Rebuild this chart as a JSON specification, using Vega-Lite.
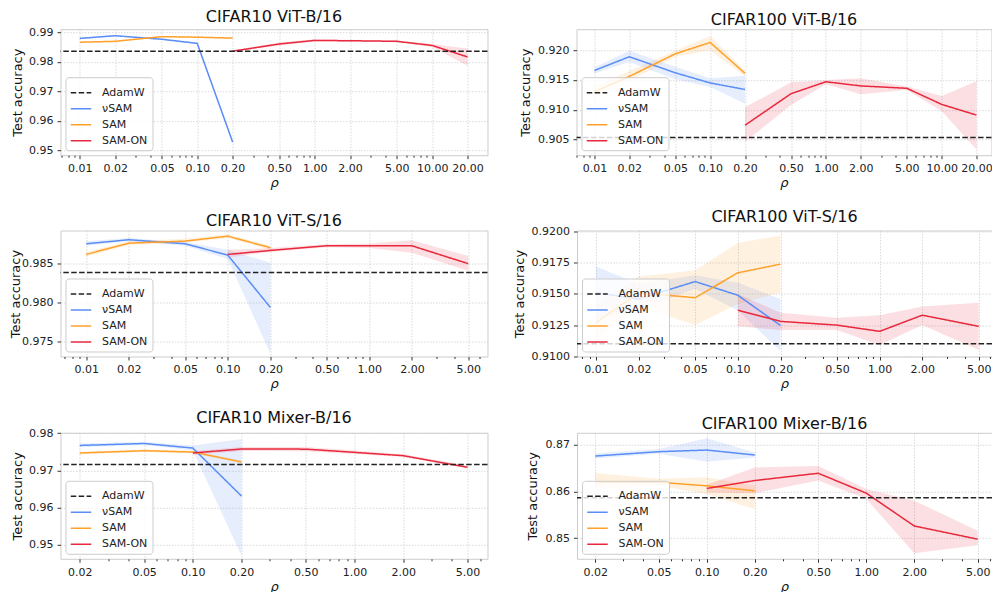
{
  "$schema": "https://vega.github.io/schema/vega-lite/v6.json",
  "padding": {"left": 8.5, "top": 8.2, "right": 0, "bottom": 0},
  "config": {
    "font": "DejaVu Sans",
    "view": {"stroke": "#cccccc", "strokeWidth": 1},
    "axis": {"domain": false, "gridColor": "#cfcfcf", "gridDash": [1.5, 1.5], "gridWidth": 0.8, "tickColor": "#333333", "tickSize": 3.5, "labelFontSize": 11, "labelColor": "#222222", "titleFontSize": 13, "titleFontWeight": "normal", "titleColor": "#111111", "labelPadding": 4, "titlePadding": 4, "labelOverlap": false, "labelFlush": false},
    "axisX": {"titleFontStyle": "italic", "titlePadding": 3},
    "title": {"fontSize": 16, "fontWeight": "normal", "color": "#111111", "offset": 1},
    "legend": {"orient": "bottom-left", "offset": 5, "symbolType": "stroke", "symbolSize": 420, "symbolStrokeWidth": 1.5, "labelFontSize": 11, "labelColor": "#222222", "fillColor": "rgba(255,255,255,0.8)", "strokeColor": "#cccccc", "cornerRadius": 3, "padding": 4.5, "rowPadding": -1.5, "labelOffset": 10}
  },
  "datasets": {
    "d": [
      {"panel": "p1", "method": "νSAM", "rho": 0.01, "acc": 0.9880, "lo": 0.9877, "hi": 0.9883},
      {"panel": "p1", "method": "νSAM", "rho": 0.02, "acc": 0.9889, "lo": 0.9887, "hi": 0.9891},
      {"panel": "p1", "method": "νSAM", "rho": 0.05, "acc": 0.9877, "lo": 0.9875, "hi": 0.9879},
      {"panel": "p1", "method": "νSAM", "rho": 0.1, "acc": 0.9863, "lo": 0.9860, "hi": 0.9866},
      {"panel": "p1", "method": "νSAM", "rho": 0.2, "acc": 0.9528, "lo": 0.9522, "hi": 0.9534},
      {"panel": "p1", "method": "SAM", "rho": 0.01, "acc": 0.9867, "lo": 0.9865, "hi": 0.9869},
      {"panel": "p1", "method": "SAM", "rho": 0.02, "acc": 0.9870, "lo": 0.9868, "hi": 0.9872},
      {"panel": "p1", "method": "SAM", "rho": 0.05, "acc": 0.9886, "lo": 0.9884, "hi": 0.9888},
      {"panel": "p1", "method": "SAM", "rho": 0.1, "acc": 0.9884, "lo": 0.9882, "hi": 0.9886},
      {"panel": "p1", "method": "SAM", "rho": 0.2, "acc": 0.9881, "lo": 0.9879, "hi": 0.9883},
      {"panel": "p1", "method": "SAM-ON", "rho": 0.2, "acc": 0.98365, "lo": 0.9834, "hi": 0.9839},
      {"panel": "p1", "method": "SAM-ON", "rho": 0.5, "acc": 0.9861, "lo": 0.9856, "hi": 0.9866},
      {"panel": "p1", "method": "SAM-ON", "rho": 1, "acc": 0.9873, "lo": 0.9869, "hi": 0.9877},
      {"panel": "p1", "method": "SAM-ON", "rho": 2, "acc": 0.9872, "lo": 0.9869, "hi": 0.9875},
      {"panel": "p1", "method": "SAM-ON", "rho": 5, "acc": 0.9870, "lo": 0.9867, "hi": 0.9873},
      {"panel": "p1", "method": "SAM-ON", "rho": 10, "acc": 0.9856, "lo": 0.9851, "hi": 0.9861},
      {"panel": "p1", "method": "SAM-ON", "rho": 20, "acc": 0.9817, "lo": 0.9787, "hi": 0.9846},

      {"panel": "p2", "method": "νSAM", "rho": 0.01, "acc": 0.9166, "lo": 0.9161, "hi": 0.9171},
      {"panel": "p2", "method": "νSAM", "rho": 0.02, "acc": 0.9189, "lo": 0.9180, "hi": 0.9199},
      {"panel": "p2", "method": "νSAM", "rho": 0.05, "acc": 0.9162, "lo": 0.9151, "hi": 0.9172},
      {"panel": "p2", "method": "νSAM", "rho": 0.1, "acc": 0.9145, "lo": 0.9138, "hi": 0.9153},
      {"panel": "p2", "method": "νSAM", "rho": 0.2, "acc": 0.9134, "lo": 0.9110, "hi": 0.9157},
      {"panel": "p2", "method": "SAM", "rho": 0.01, "acc": 0.9130, "lo": 0.9120, "hi": 0.9139},
      {"panel": "p2", "method": "SAM", "rho": 0.02, "acc": 0.9156, "lo": 0.9148, "hi": 0.9165},
      {"panel": "p2", "method": "SAM", "rho": 0.05, "acc": 0.9194, "lo": 0.9189, "hi": 0.9199},
      {"panel": "p2", "method": "SAM", "rho": 0.1, "acc": 0.9213, "lo": 0.9200, "hi": 0.9224},
      {"panel": "p2", "method": "SAM", "rho": 0.2, "acc": 0.9161, "lo": 0.9156, "hi": 0.9166},
      {"panel": "p2", "method": "SAM-ON", "rho": 0.2, "acc": 0.9074, "lo": 0.9046, "hi": 0.9104},
      {"panel": "p2", "method": "SAM-ON", "rho": 0.5, "acc": 0.9127, "lo": 0.9108, "hi": 0.9146},
      {"panel": "p2", "method": "SAM-ON", "rho": 1, "acc": 0.9147, "lo": 0.9143, "hi": 0.9150},
      {"panel": "p2", "method": "SAM-ON", "rho": 2, "acc": 0.9140, "lo": 0.9126, "hi": 0.9153},
      {"panel": "p2", "method": "SAM-ON", "rho": 5, "acc": 0.9136, "lo": 0.9133, "hi": 0.9139},
      {"panel": "p2", "method": "SAM-ON", "rho": 10, "acc": 0.9109, "lo": 0.9098, "hi": 0.9123},
      {"panel": "p2", "method": "SAM-ON", "rho": 20, "acc": 0.9091, "lo": 0.9033, "hi": 0.9148},

      {"panel": "p3", "method": "νSAM", "rho": 0.01, "acc": 0.98756, "lo": 0.9873, "hi": 0.9879},
      {"panel": "p3", "method": "νSAM", "rho": 0.02, "acc": 0.98808, "lo": 0.9879, "hi": 0.9883},
      {"panel": "p3", "method": "νSAM", "rho": 0.05, "acc": 0.98756, "lo": 0.9873, "hi": 0.9878},
      {"panel": "p3", "method": "νSAM", "rho": 0.1, "acc": 0.9861, "lo": 0.9856, "hi": 0.9868},
      {"panel": "p3", "method": "νSAM", "rho": 0.2, "acc": 0.97936, "lo": 0.9734, "hi": 0.9851},
      {"panel": "p3", "method": "SAM", "rho": 0.01, "acc": 0.98619, "lo": 0.9859, "hi": 0.9865},
      {"panel": "p3", "method": "SAM", "rho": 0.02, "acc": 0.98764, "lo": 0.9874, "hi": 0.9879},
      {"panel": "p3", "method": "SAM", "rho": 0.05, "acc": 0.9879, "lo": 0.9877, "hi": 0.9882},
      {"panel": "p3", "method": "SAM", "rho": 0.1, "acc": 0.98854, "lo": 0.9883, "hi": 0.9888},
      {"panel": "p3", "method": "SAM", "rho": 0.2, "acc": 0.98705, "lo": 0.9868, "hi": 0.9873},
      {"panel": "p3", "method": "SAM-ON", "rho": 0.1, "acc": 0.98619, "lo": 0.9858, "hi": 0.9868},
      {"panel": "p3", "method": "SAM-ON", "rho": 0.2, "acc": 0.9867, "lo": 0.9865, "hi": 0.9870},
      {"panel": "p3", "method": "SAM-ON", "rho": 0.5, "acc": 0.98731, "lo": 0.9871, "hi": 0.9875},
      {"panel": "p3", "method": "SAM-ON", "rho": 1, "acc": 0.9873, "lo": 0.9870, "hi": 0.9876},
      {"panel": "p3", "method": "SAM-ON", "rho": 2, "acc": 0.9873, "lo": 0.9864, "hi": 0.9880},
      {"panel": "p3", "method": "SAM-ON", "rho": 5, "acc": 0.9850, "lo": 0.9841, "hi": 0.9860},

      {"panel": "p4", "method": "νSAM", "rho": 0.01, "acc": 0.9151, "lo": 0.9130, "hi": 0.9172},
      {"panel": "p4", "method": "νSAM", "rho": 0.02, "acc": 0.9146, "lo": 0.9138, "hi": 0.9158},
      {"panel": "p4", "method": "νSAM", "rho": 0.05, "acc": 0.9160, "lo": 0.9154, "hi": 0.9165},
      {"panel": "p4", "method": "νSAM", "rho": 0.1, "acc": 0.9149, "lo": 0.9137, "hi": 0.9159},
      {"panel": "p4", "method": "νSAM", "rho": 0.2, "acc": 0.91247, "lo": 0.9104, "hi": 0.9146},
      {"panel": "p4", "method": "SAM", "rho": 0.01, "acc": 0.9127, "lo": 0.9113, "hi": 0.9141},
      {"panel": "p4", "method": "SAM", "rho": 0.02, "acc": 0.9151, "lo": 0.9140, "hi": 0.9164},
      {"panel": "p4", "method": "SAM", "rho": 0.05, "acc": 0.9147, "lo": 0.9125, "hi": 0.9169},
      {"panel": "p4", "method": "SAM", "rho": 0.1, "acc": 0.9167, "lo": 0.9142, "hi": 0.9191},
      {"panel": "p4", "method": "SAM", "rho": 0.2, "acc": 0.9174, "lo": 0.9151, "hi": 0.9197},
      {"panel": "p4", "method": "SAM-ON", "rho": 0.1, "acc": 0.9137, "lo": 0.9124, "hi": 0.9150},
      {"panel": "p4", "method": "SAM-ON", "rho": 0.2, "acc": 0.9128, "lo": 0.9121, "hi": 0.9135},
      {"panel": "p4", "method": "SAM-ON", "rho": 0.5, "acc": 0.9125, "lo": 0.9121, "hi": 0.9131},
      {"panel": "p4", "method": "SAM-ON", "rho": 1, "acc": 0.9120, "lo": 0.9109, "hi": 0.9133},
      {"panel": "p4", "method": "SAM-ON", "rho": 2, "acc": 0.9133, "lo": 0.9125, "hi": 0.9140},
      {"panel": "p4", "method": "SAM-ON", "rho": 5, "acc": 0.9124, "lo": 0.9105, "hi": 0.9143},

      {"panel": "p5", "method": "νSAM", "rho": 0.02, "acc": 0.97669, "lo": 0.9762, "hi": 0.9772},
      {"panel": "p5", "method": "νSAM", "rho": 0.05, "acc": 0.97722, "lo": 0.9768, "hi": 0.9777},
      {"panel": "p5", "method": "νSAM", "rho": 0.1, "acc": 0.97599, "lo": 0.9753, "hi": 0.9767},
      {"panel": "p5", "method": "νSAM", "rho": 0.2, "acc": 0.96307, "lo": 0.9470, "hi": 0.9784},
      {"panel": "p5", "method": "SAM", "rho": 0.02, "acc": 0.97466, "lo": 0.9743, "hi": 0.9750},
      {"panel": "p5", "method": "SAM", "rho": 0.05, "acc": 0.97527, "lo": 0.9749, "hi": 0.9757},
      {"panel": "p5", "method": "SAM", "rho": 0.1, "acc": 0.97492, "lo": 0.9745, "hi": 0.9753},
      {"panel": "p5", "method": "SAM", "rho": 0.2, "acc": 0.97225, "lo": 0.9719, "hi": 0.9726},
      {"panel": "p5", "method": "SAM-ON", "rho": 0.1, "acc": 0.97466, "lo": 0.9742, "hi": 0.9751},
      {"panel": "p5", "method": "SAM-ON", "rho": 0.2, "acc": 0.97573, "lo": 0.9752, "hi": 0.9763},
      {"panel": "p5", "method": "SAM-ON", "rho": 0.5, "acc": 0.9757, "lo": 0.9751, "hi": 0.9763},
      {"panel": "p5", "method": "SAM-ON", "rho": 1, "acc": 0.97483, "lo": 0.9744, "hi": 0.9753},
      {"panel": "p5", "method": "SAM-ON", "rho": 2, "acc": 0.97394, "lo": 0.9736, "hi": 0.9743},
      {"panel": "p5", "method": "SAM-ON", "rho": 5, "acc": 0.97081, "lo": 0.9705, "hi": 0.9712},

      {"panel": "p6", "method": "νSAM", "rho": 0.02, "acc": 0.86752, "lo": 0.8670, "hi": 0.8681},
      {"panel": "p6", "method": "νSAM", "rho": 0.05, "acc": 0.86845, "lo": 0.8680, "hi": 0.8690},
      {"panel": "p6", "method": "νSAM", "rho": 0.1, "acc": 0.8688, "lo": 0.8663, "hi": 0.8713},
      {"panel": "p6", "method": "νSAM", "rho": 0.2, "acc": 0.86774, "lo": 0.8672, "hi": 0.8683},
      {"panel": "p6", "method": "SAM", "rho": 0.02, "acc": 0.86201, "lo": 0.8605, "hi": 0.8639},
      {"panel": "p6", "method": "SAM", "rho": 0.05, "acc": 0.86194, "lo": 0.8612, "hi": 0.8627},
      {"panel": "p6", "method": "SAM", "rho": 0.1, "acc": 0.86116, "lo": 0.8594, "hi": 0.8630},
      {"panel": "p6", "method": "SAM", "rho": 0.2, "acc": 0.8601, "lo": 0.8562, "hi": 0.8612},
      {"panel": "p6", "method": "SAM-ON", "rho": 0.1, "acc": 0.86061, "lo": 0.8598, "hi": 0.8614},
      {"panel": "p6", "method": "SAM-ON", "rho": 0.2, "acc": 0.8623, "lo": 0.8596, "hi": 0.8651},
      {"panel": "p6", "method": "SAM-ON", "rho": 0.5, "acc": 0.86385, "lo": 0.8623, "hi": 0.8654},
      {"panel": "p6", "method": "SAM-ON", "rho": 1, "acc": 0.85961, "lo": 0.8584, "hi": 0.8605},
      {"panel": "p6", "method": "SAM-ON", "rho": 2, "acc": 0.85261, "lo": 0.8468, "hi": 0.8580},
      {"panel": "p6", "method": "SAM-ON", "rho": 5, "acc": 0.84979, "lo": 0.8485, "hi": 0.8516}
    ],
    "a": [
      {"panel": "p1", "method": "AdamW", "acc": 0.98365},
      {"panel": "p2", "method": "AdamW", "acc": 0.90535},
      {"panel": "p3", "method": "AdamW", "acc": 0.98385},
      {"panel": "p4", "method": "AdamW", "acc": 0.9110},
      {"panel": "p5", "method": "AdamW", "acc": 0.97153},
      {"panel": "p6", "method": "AdamW", "acc": 0.85862}
    ]
  },
  "resolve": {"scale": {"color": "independent", "strokeDash": "independent", "fill": "independent"}, "legend": {"color": "independent", "strokeDash": "independent"}},
  "spacing": 17.3,
  "vconcat": [
    {
      "spacing": 30,
      "resolve": {"scale": {"color": "independent", "strokeDash": "independent", "fill": "independent"}, "legend": {"color": "independent", "strokeDash": "independent"}},
      "hconcat": [
        {
          "width": 427, "height": 126, "title": "CIFAR10 ViT-B/16",
          "layer": [
            {"data": {"name": "d"}, "transform": [{"filter": "datum.panel === 'p1'"}], "mark": {"type": "area", "opacity": 0.15},
             "encoding": {
               "x": {"field": "rho", "type": "quantitative", "title": "ρ", "scale": {"type": "log", "domain": [0.00685, 29.6], "nice": false},
                     "axis": {"values": [0.007, 0.008, 0.009, 0.01, 0.02, 0.03, 0.04, 0.05, 0.06, 0.07, 0.08, 0.09, 0.1, 0.2, 0.3, 0.4, 0.5, 0.6, 0.7, 0.8, 0.9, 1, 2, 3, 4, 5, 6, 7, 8, 9, 10, 20],
                              "tickCount": 100,
                              "labelExpr": "indexof([0.01, 0.02, 0.05, 0.1, 0.2, 0.5, 1, 2, 5, 10, 20], datum.value) >= 0 ? format(datum.value, '.2f') : ''",
                              "labelOverlap": false,
                              "tickSize": {"condition": {"test": "indexof([0.01, 0.02, 0.05, 0.1, 0.2, 0.5, 1, 2, 5, 10, 20], datum.value) < 0", "value": 2}, "value": 3.5},
                              "gridOpacity": {"condition": {"test": "indexof([0.01, 0.02, 0.05, 0.1, 0.2, 0.5, 1, 2, 5, 10, 20], datum.value) < 0", "value": 0}, "value": 1}}},
               "y": {"field": "lo", "type": "quantitative", "title": "Test accuracy", "scale": {"domain": [0.9483, 0.99112], "nice": false, "zero": false}, "axis": {"values": [0.95, 0.96, 0.97, 0.98, 0.99], "tickCount": 100, "format": ".2f", "labelOverlap": false, "minExtent": 32, "maxExtent": 32}},
               "y2": {"field": "hi"},
               "fill": {"field": "method", "type": "nominal", "scale": {"domain": ["νSAM", "SAM", "SAM-ON"], "range": ["#5a8df5", "#ffa12a", "#e8283c"]}, "legend": null}
             }},
            {"data": {"name": "d"}, "transform": [{"filter": "datum.panel === 'p1'"}], "mark": {"type": "line", "strokeWidth": 1.5},
             "encoding": {
               "x": {"field": "rho", "type": "quantitative", "title": "ρ"},
               "y": {"field": "acc", "type": "quantitative", "title": "Test accuracy"},
               "color": {"field": "method", "type": "nominal", "scale": {"domain": ["AdamW", "νSAM", "SAM", "SAM-ON"], "range": ["#222222", "#5a8df5", "#ffa12a", "#e8283c"]}, "legend": {"title": null}},
               "strokeDash": {"field": "method", "type": "nominal", "scale": {"domain": ["AdamW", "νSAM", "SAM", "SAM-ON"], "range": [[5.5, 2.4], [1, 0], [1, 0], [1, 0]]}, "legend": {"title": null}}
             }},
            {"data": {"name": "a"}, "transform": [{"filter": "datum.panel === 'p1'"}], "mark": {"type": "rule", "strokeWidth": 1.5},
             "encoding": {
               "y": {"field": "acc", "type": "quantitative", "title": "Test accuracy"},
               "color": {"field": "method", "type": "nominal", "scale": {"domain": ["AdamW", "νSAM", "SAM", "SAM-ON"], "range": ["#222222", "#5a8df5", "#ffa12a", "#e8283c"]}, "legend": {"title": null}},
               "strokeDash": {"field": "method", "type": "nominal", "scale": {"domain": ["AdamW", "νSAM", "SAM", "SAM-ON"], "range": [[5.5, 2.4], [1, 0], [1, 0], [1, 0]]}, "legend": {"title": null}}
             }}
          ]
        },
        {
          "width": 415, "height": 126, "title": "CIFAR100 ViT-B/16",
          "layer": [
            {"data": {"name": "d"}, "transform": [{"filter": "datum.panel === 'p2'"}], "mark": {"type": "area", "opacity": 0.15},
             "encoding": {
               "x": {"field": "rho", "type": "quantitative", "title": "ρ", "scale": {"type": "log", "domain": [0.006991, 26.96], "nice": false},
                     "axis": {"values": [0.007, 0.008, 0.009, 0.01, 0.02, 0.03, 0.04, 0.05, 0.06, 0.07, 0.08, 0.09, 0.1, 0.2, 0.3, 0.4, 0.5, 0.6, 0.7, 0.8, 0.9, 1, 2, 3, 4, 5, 6, 7, 8, 9, 10, 20],
                              "tickCount": 100,
                              "labelExpr": "indexof([0.01, 0.02, 0.05, 0.1, 0.2, 0.5, 1, 2, 5, 10, 20], datum.value) >= 0 ? format(datum.value, '.2f') : ''",
                              "labelOverlap": false,
                              "tickSize": {"condition": {"test": "indexof([0.01, 0.02, 0.05, 0.1, 0.2, 0.5, 1, 2, 5, 10, 20], datum.value) < 0", "value": 2}, "value": 3.5},
                              "gridOpacity": {"condition": {"test": "indexof([0.01, 0.02, 0.05, 0.1, 0.2, 0.5, 1, 2, 5, 10, 20], datum.value) < 0", "value": 0}, "value": 1}}},
               "y": {"field": "lo", "type": "quantitative", "title": "Test accuracy", "scale": {"domain": [0.90236, 0.92353], "nice": false, "zero": false}, "axis": {"values": [0.905, 0.91, 0.915, 0.92], "tickCount": 100, "format": ".3f", "labelOverlap": false, "minExtent": 39.5, "maxExtent": 39.5}},
               "y2": {"field": "hi"},
               "fill": {"field": "method", "type": "nominal", "scale": {"domain": ["νSAM", "SAM", "SAM-ON"], "range": ["#5a8df5", "#ffa12a", "#e8283c"]}, "legend": null}
             }},
            {"data": {"name": "d"}, "transform": [{"filter": "datum.panel === 'p2'"}], "mark": {"type": "line", "strokeWidth": 1.5},
             "encoding": {
               "x": {"field": "rho", "type": "quantitative", "title": "ρ"},
               "y": {"field": "acc", "type": "quantitative", "title": "Test accuracy"},
               "color": {"field": "method", "type": "nominal", "scale": {"domain": ["AdamW", "νSAM", "SAM", "SAM-ON"], "range": ["#222222", "#5a8df5", "#ffa12a", "#e8283c"]}, "legend": {"title": null}},
               "strokeDash": {"field": "method", "type": "nominal", "scale": {"domain": ["AdamW", "νSAM", "SAM", "SAM-ON"], "range": [[5.5, 2.4], [1, 0], [1, 0], [1, 0]]}, "legend": {"title": null}}
             }},
            {"data": {"name": "a"}, "transform": [{"filter": "datum.panel === 'p2'"}], "mark": {"type": "rule", "strokeWidth": 1.5},
             "encoding": {
               "y": {"field": "acc", "type": "quantitative", "title": "Test accuracy"},
               "color": {"field": "method", "type": "nominal", "scale": {"domain": ["AdamW", "νSAM", "SAM", "SAM-ON"], "range": ["#222222", "#5a8df5", "#ffa12a", "#e8283c"]}, "legend": {"title": null}},
               "strokeDash": {"field": "method", "type": "nominal", "scale": {"domain": ["AdamW", "νSAM", "SAM", "SAM-ON"], "range": [[5.5, 2.4], [1, 0], [1, 0], [1, 0]]}, "legend": {"title": null}}
             }}
          ]
        }
      ]
    },
    {
      "spacing": 23.5,
      "resolve": {"scale": {"color": "independent", "strokeDash": "independent", "fill": "independent"}, "legend": {"color": "independent", "strokeDash": "independent"}},
      "hconcat": [
        {
          "width": 427, "height": 126, "title": "CIFAR10 ViT-S/16",
          "layer": [
            {"data": {"name": "d"}, "transform": [{"filter": "datum.panel === 'p3'"}], "mark": {"type": "area", "opacity": 0.15},
             "encoding": {
               "x": {"field": "rho", "type": "quantitative", "title": "ρ", "scale": {"type": "log", "domain": [0.00658, 6.84], "nice": false},
                     "axis": {"values": [0.007, 0.008, 0.009, 0.01, 0.02, 0.03, 0.04, 0.05, 0.06, 0.07, 0.08, 0.09, 0.1, 0.2, 0.3, 0.4, 0.5, 0.6, 0.7, 0.8, 0.9, 1, 2, 3, 4, 5, 6],
                              "tickCount": 100,
                              "labelExpr": "indexof([0.01, 0.02, 0.05, 0.1, 0.2, 0.5, 1, 2, 5], datum.value) >= 0 ? format(datum.value, '.2f') : ''",
                              "labelOverlap": false,
                              "tickSize": {"condition": {"test": "indexof([0.01, 0.02, 0.05, 0.1, 0.2, 0.5, 1, 2, 5], datum.value) < 0", "value": 2}, "value": 3.5},
                              "gridOpacity": {"condition": {"test": "indexof([0.01, 0.02, 0.05, 0.1, 0.2, 0.5, 1, 2, 5], datum.value) < 0", "value": 0}, "value": 1}}},
               "y": {"field": "lo", "type": "quantitative", "title": "Test accuracy", "scale": {"domain": [0.97304, 0.98927], "nice": false, "zero": false}, "axis": {"values": [0.975, 0.98, 0.985], "tickCount": 100, "format": ".3f", "labelOverlap": false, "minExtent": 32, "maxExtent": 32, "titlePadding": 6}},
               "y2": {"field": "hi"},
               "fill": {"field": "method", "type": "nominal", "scale": {"domain": ["νSAM", "SAM", "SAM-ON"], "range": ["#5a8df5", "#ffa12a", "#e8283c"]}, "legend": null}
             }},
            {"data": {"name": "d"}, "transform": [{"filter": "datum.panel === 'p3'"}], "mark": {"type": "line", "strokeWidth": 1.5},
             "encoding": {
               "x": {"field": "rho", "type": "quantitative", "title": "ρ"},
               "y": {"field": "acc", "type": "quantitative", "title": "Test accuracy"},
               "color": {"field": "method", "type": "nominal", "scale": {"domain": ["AdamW", "νSAM", "SAM", "SAM-ON"], "range": ["#222222", "#5a8df5", "#ffa12a", "#e8283c"]}, "legend": {"title": null}},
               "strokeDash": {"field": "method", "type": "nominal", "scale": {"domain": ["AdamW", "νSAM", "SAM", "SAM-ON"], "range": [[5.5, 2.4], [1, 0], [1, 0], [1, 0]]}, "legend": {"title": null}}
             }},
            {"data": {"name": "a"}, "transform": [{"filter": "datum.panel === 'p3'"}], "mark": {"type": "rule", "strokeWidth": 1.5},
             "encoding": {
               "y": {"field": "acc", "type": "quantitative", "title": "Test accuracy"},
               "color": {"field": "method", "type": "nominal", "scale": {"domain": ["AdamW", "νSAM", "SAM", "SAM-ON"], "range": ["#222222", "#5a8df5", "#ffa12a", "#e8283c"]}, "legend": {"title": null}},
               "strokeDash": {"field": "method", "type": "nominal", "scale": {"domain": ["AdamW", "νSAM", "SAM", "SAM-ON"], "range": [[5.5, 2.4], [1, 0], [1, 0], [1, 0]]}, "legend": {"title": null}}
             }}
          ]
        },
        {
          "width": 415, "height": 126, "title": "CIFAR100 ViT-S/16",
          "layer": [
            {"data": {"name": "d"}, "transform": [{"filter": "datum.panel === 'p4'"}], "mark": {"type": "area", "opacity": 0.15},
             "encoding": {
               "x": {"field": "rho", "type": "quantitative", "title": "ρ", "scale": {"type": "log", "domain": [0.007345, 6.2], "nice": false},
                     "axis": {"values": [0.008, 0.009, 0.01, 0.02, 0.03, 0.04, 0.05, 0.06, 0.07, 0.08, 0.09, 0.1, 0.2, 0.3, 0.4, 0.5, 0.6, 0.7, 0.8, 0.9, 1, 2, 3, 4, 5, 6],
                              "tickCount": 100,
                              "labelExpr": "indexof([0.01, 0.02, 0.05, 0.1, 0.2, 0.5, 1, 2, 5], datum.value) >= 0 ? format(datum.value, '.2f') : ''",
                              "labelOverlap": false,
                              "tickSize": {"condition": {"test": "indexof([0.01, 0.02, 0.05, 0.1, 0.2, 0.5, 1, 2, 5], datum.value) < 0", "value": 2}, "value": 3.5},
                              "gridOpacity": {"condition": {"test": "indexof([0.01, 0.02, 0.05, 0.1, 0.2, 0.5, 1, 2, 5], datum.value) < 0", "value": 0}, "value": 1}}},
               "y": {"field": "lo", "type": "quantitative", "title": "Test accuracy", "scale": {"domain": [0.90998, 0.9201], "nice": false, "zero": false}, "axis": {"values": [0.91, 0.9125, 0.915, 0.9175, 0.92], "tickCount": 100, "format": ".4f", "labelOverlap": false, "minExtent": 46, "maxExtent": 46}},
               "y2": {"field": "hi"},
               "fill": {"field": "method", "type": "nominal", "scale": {"domain": ["νSAM", "SAM", "SAM-ON"], "range": ["#5a8df5", "#ffa12a", "#e8283c"]}, "legend": null}
             }},
            {"data": {"name": "d"}, "transform": [{"filter": "datum.panel === 'p4'"}], "mark": {"type": "line", "strokeWidth": 1.5},
             "encoding": {
               "x": {"field": "rho", "type": "quantitative", "title": "ρ"},
               "y": {"field": "acc", "type": "quantitative", "title": "Test accuracy"},
               "color": {"field": "method", "type": "nominal", "scale": {"domain": ["AdamW", "νSAM", "SAM", "SAM-ON"], "range": ["#222222", "#5a8df5", "#ffa12a", "#e8283c"]}, "legend": {"title": null}},
               "strokeDash": {"field": "method", "type": "nominal", "scale": {"domain": ["AdamW", "νSAM", "SAM", "SAM-ON"], "range": [[5.5, 2.4], [1, 0], [1, 0], [1, 0]]}, "legend": {"title": null}}
             }},
            {"data": {"name": "a"}, "transform": [{"filter": "datum.panel === 'p4'"}], "mark": {"type": "rule", "strokeWidth": 1.5},
             "encoding": {
               "y": {"field": "acc", "type": "quantitative", "title": "Test accuracy"},
               "color": {"field": "method", "type": "nominal", "scale": {"domain": ["AdamW", "νSAM", "SAM", "SAM-ON"], "range": ["#222222", "#5a8df5", "#ffa12a", "#e8283c"]}, "legend": {"title": null}},
               "strokeDash": {"field": "method", "type": "nominal", "scale": {"domain": ["AdamW", "νSAM", "SAM", "SAM-ON"], "range": [[5.5, 2.4], [1, 0], [1, 0], [1, 0]]}, "legend": {"title": null}}
             }}
          ]
        }
      ]
    },
    {
      "spacing": 36.5,
      "resolve": {"scale": {"color": "independent", "strokeDash": "independent", "fill": "independent"}, "legend": {"color": "independent", "strokeDash": "independent"}},
      "hconcat": [
        {
          "width": 427, "height": 126, "title": "CIFAR10 Mixer-B/16",
          "layer": [
            {"data": {"name": "d"}, "transform": [{"filter": "datum.panel === 'p5'"}], "mark": {"type": "area", "opacity": 0.15},
             "encoding": {
               "x": {"field": "rho", "type": "quantitative", "title": "ρ", "scale": {"type": "log", "domain": [0.0152, 6.64], "nice": false},
                     "axis": {"values": [0.02, 0.03, 0.04, 0.05, 0.06, 0.07, 0.08, 0.09, 0.1, 0.2, 0.3, 0.4, 0.5, 0.6, 0.7, 0.8, 0.9, 1, 2, 3, 4, 5, 6],
                              "tickCount": 100,
                              "labelExpr": "indexof([0.02, 0.05, 0.1, 0.2, 0.5, 1, 2, 5], datum.value) >= 0 ? format(datum.value, '.2f') : ''",
                              "labelOverlap": false,
                              "tickSize": {"condition": {"test": "indexof([0.02, 0.05, 0.1, 0.2, 0.5, 1, 2, 5], datum.value) < 0", "value": 2}, "value": 3.5},
                              "gridOpacity": {"condition": {"test": "indexof([0.02, 0.05, 0.1, 0.2, 0.5, 1, 2, 5], datum.value) < 0", "value": 0}, "value": 1}}},
               "y": {"field": "lo", "type": "quantitative", "title": "Test accuracy", "scale": {"domain": [0.94618, 0.9801], "nice": false, "zero": false}, "axis": {"values": [0.95, 0.96, 0.97, 0.98], "tickCount": 100, "format": ".2f", "labelOverlap": false, "minExtent": 32, "maxExtent": 32}},
               "y2": {"field": "hi"},
               "fill": {"field": "method", "type": "nominal", "scale": {"domain": ["νSAM", "SAM", "SAM-ON"], "range": ["#5a8df5", "#ffa12a", "#e8283c"]}, "legend": null}
             }},
            {"data": {"name": "d"}, "transform": [{"filter": "datum.panel === 'p5'"}], "mark": {"type": "line", "strokeWidth": 1.5},
             "encoding": {
               "x": {"field": "rho", "type": "quantitative", "title": "ρ"},
               "y": {"field": "acc", "type": "quantitative", "title": "Test accuracy"},
               "color": {"field": "method", "type": "nominal", "scale": {"domain": ["AdamW", "νSAM", "SAM", "SAM-ON"], "range": ["#222222", "#5a8df5", "#ffa12a", "#e8283c"]}, "legend": {"title": null}},
               "strokeDash": {"field": "method", "type": "nominal", "scale": {"domain": ["AdamW", "νSAM", "SAM", "SAM-ON"], "range": [[5.5, 2.4], [1, 0], [1, 0], [1, 0]]}, "legend": {"title": null}}
             }},
            {"data": {"name": "a"}, "transform": [{"filter": "datum.panel === 'p5'"}], "mark": {"type": "rule", "strokeWidth": 1.5},
             "encoding": {
               "y": {"field": "acc", "type": "quantitative", "title": "Test accuracy"},
               "color": {"field": "method", "type": "nominal", "scale": {"domain": ["AdamW", "νSAM", "SAM", "SAM-ON"], "range": ["#222222", "#5a8df5", "#ffa12a", "#e8283c"]}, "legend": {"title": null}},
               "strokeDash": {"field": "method", "type": "nominal", "scale": {"domain": ["AdamW", "νSAM", "SAM", "SAM-ON"], "range": [[5.5, 2.4], [1, 0], [1, 0], [1, 0]]}, "legend": {"title": null}}
             }}
          ]
        },
        {
          "width": 415, "height": 126, "title": "CIFAR100 Mixer-B/16",
          "layer": [
            {"data": {"name": "d"}, "transform": [{"filter": "datum.panel === 'p6'"}], "mark": {"type": "area", "opacity": 0.15},
             "encoding": {
               "x": {"field": "rho", "type": "quantitative", "title": "ρ", "scale": {"type": "log", "domain": [0.015354, 6.146], "nice": false},
                     "axis": {"values": [0.02, 0.03, 0.04, 0.05, 0.06, 0.07, 0.08, 0.09, 0.1, 0.2, 0.3, 0.4, 0.5, 0.6, 0.7, 0.8, 0.9, 1, 2, 3, 4, 5, 6],
                              "tickCount": 100,
                              "labelExpr": "indexof([0.02, 0.05, 0.1, 0.2, 0.5, 1, 2, 5], datum.value) >= 0 ? format(datum.value, '.2f') : ''",
                              "labelOverlap": false,
                              "tickSize": {"condition": {"test": "indexof([0.02, 0.05, 0.1, 0.2, 0.5, 1, 2, 5], datum.value) < 0", "value": 2}, "value": 3.5},
                              "gridOpacity": {"condition": {"test": "indexof([0.02, 0.05, 0.1, 0.2, 0.5, 1, 2, 5], datum.value) < 0", "value": 0}, "value": 1}}},
               "y": {"field": "lo", "type": "quantitative", "title": "Test accuracy", "scale": {"domain": [0.84561, 0.87248], "nice": false, "zero": false}, "axis": {"values": [0.85, 0.86, 0.87], "tickCount": 100, "format": ".2f", "labelOverlap": false, "minExtent": 33, "maxExtent": 33}},
               "y2": {"field": "hi"},
               "fill": {"field": "method", "type": "nominal", "scale": {"domain": ["νSAM", "SAM", "SAM-ON"], "range": ["#5a8df5", "#ffa12a", "#e8283c"]}, "legend": null}
             }},
            {"data": {"name": "d"}, "transform": [{"filter": "datum.panel === 'p6'"}], "mark": {"type": "line", "strokeWidth": 1.5},
             "encoding": {
               "x": {"field": "rho", "type": "quantitative", "title": "ρ"},
               "y": {"field": "acc", "type": "quantitative", "title": "Test accuracy"},
               "color": {"field": "method", "type": "nominal", "scale": {"domain": ["AdamW", "νSAM", "SAM", "SAM-ON"], "range": ["#222222", "#5a8df5", "#ffa12a", "#e8283c"]}, "legend": {"title": null}},
               "strokeDash": {"field": "method", "type": "nominal", "scale": {"domain": ["AdamW", "νSAM", "SAM", "SAM-ON"], "range": [[5.5, 2.4], [1, 0], [1, 0], [1, 0]]}, "legend": {"title": null}}
             }},
            {"data": {"name": "a"}, "transform": [{"filter": "datum.panel === 'p6'"}], "mark": {"type": "rule", "strokeWidth": 1.5},
             "encoding": {
               "y": {"field": "acc", "type": "quantitative", "title": "Test accuracy"},
               "color": {"field": "method", "type": "nominal", "scale": {"domain": ["AdamW", "νSAM", "SAM", "SAM-ON"], "range": ["#222222", "#5a8df5", "#ffa12a", "#e8283c"]}, "legend": {"title": null}},
               "strokeDash": {"field": "method", "type": "nominal", "scale": {"domain": ["AdamW", "νSAM", "SAM", "SAM-ON"], "range": [[5.5, 2.4], [1, 0], [1, 0], [1, 0]]}, "legend": {"title": null}}
             }}
          ]
        }
      ]
    }
  ]
}
